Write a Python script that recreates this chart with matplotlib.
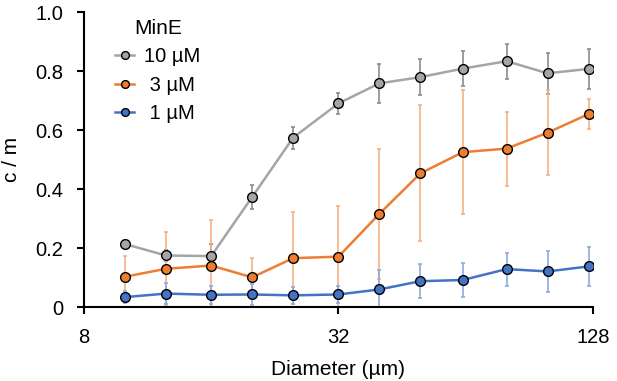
import matplotlib.pyplot as plt

plt.rcParams['font.family'] = ['Liberation Sans', 'DejaVu Sans']

DIAMETER = [10, 12.5, 16, 20, 25, 32, 40, 50, 63, 80, 100, 125]

MINE_10 = [0.215, 0.176, 0.174, 0.374, 0.575, 0.691, 0.759, 0.780, 0.809, 0.834, 0.793, 0.808]
MINE_10_ERR = [0.015, 0.02, 0.04, 0.04, 0.037, 0.037, 0.066, 0.06, 0.058, 0.059, 0.07, 0.068]

MINE_3 = [0.104, 0.131, 0.142, 0.102, 0.167, 0.172, 0.317, 0.454, 0.526, 0.538, 0.592, 0.655]
MINE_3_ERR = [0.07, 0.125, 0.155, 0.066, 0.155, 0.17, 0.22, 0.23, 0.21, 0.125, 0.145, 0.05]

MINE_1 = [0.035, 0.047, 0.043, 0.044, 0.041, 0.044, 0.061, 0.089, 0.093, 0.13, 0.122, 0.139]
MINE_1_ERR = [0.02, 0.035, 0.03, 0.035, 0.03, 0.03, 0.065, 0.057, 0.056, 0.056, 0.07, 0.066]

SERIES = [
    ('10 µM', MINE_10, MINE_10_ERR, '#A5A5A5', '#8C8C8C'),
    (' 3 µM', MINE_3, MINE_3_ERR, '#ED7D31', '#F4B183'),
    (' 1 µM', MINE_1, MINE_1_ERR, '#4472C4', '#8FAADC'),
]

fig = plt.figure(figsize=(6.17, 3.81), dpi=100)
ax = fig.add_axes([0.136, 0.193, 0.825, 0.775])

for i, (label, y, err, color, ecolor) in enumerate(SERIES):
    ax.errorbar(DIAMETER, y, yerr=err, fmt='none', ecolor=ecolor, elinewidth=1.2,
                capsize=1.5, capthick=1.2, zorder=2 + i * 0.1)
for i, (label, y, err, color, ecolor) in enumerate(SERIES):
    ax.plot(DIAMETER, y, '-o', color=color, lw=1.8, markersize=7,
            markerfacecolor=color, markeredgecolor='black', markeredgewidth=1.0,
            label=label, zorder=4 + i * 0.1)

ax.set_xscale('log', base=2)
ax.set_xlim(8, 128)
ax.set_xticks([8, 32, 128])
ax.set_xticklabels(['8', '32', '128'])
ax.minorticks_off()
ax.set_ylim(0, 1.0)
ax.set_yticks([0, 0.2, 0.4, 0.6, 0.8, 1.0])
ax.set_yticklabels(['0', '0.2', '0.4', '0.6', '0.8', '1.0'])

for side in ['top', 'right']:
    ax.spines[side].set_visible(False)
for side in ['left', 'bottom']:
    ax.spines[side].set_linewidth(1.5)
ax.tick_params(axis='both', direction='out', length=5, width=1.5, labelsize=14.5,
               colors='black', pad=10)

ax.set_xlabel('Diameter (µm)', fontsize=15, labelpad=9)
ax.set_ylabel('c / m', fontsize=15, labelpad=10)

leg = ax.legend(title='MinE', title_fontsize=15, loc='upper left',
                bbox_to_anchor=(0.061, 0.978), frameon=False,
                fontsize=14.5, handlelength=0.95, handletextpad=0.5,
                labelspacing=0.47, borderpad=0, borderaxespad=0, markerscale=0.8)

fig.savefig('out.png', dpi=100)
